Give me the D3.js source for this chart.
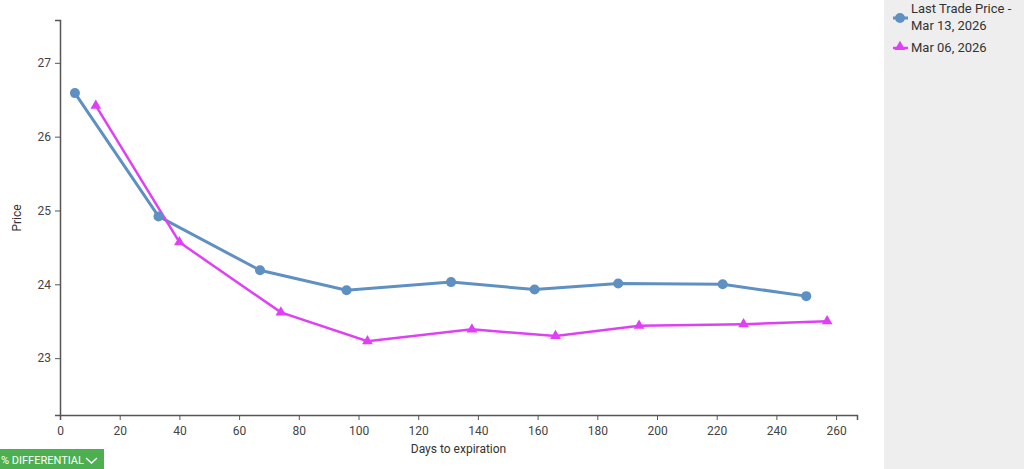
<!DOCTYPE html>
<html>
<head>
<meta charset="utf-8">
<script src="https://cdn.jsdelivr.net/npm/d3@7"></script>
<style>
  body { margin: 0; background: #fff; font-family: Roboto, "Noto Sans", sans-serif; }
  #chart { position: relative; width: 1024px; height: 469px; overflow: hidden; }
</style>
</head>
<body>
<div id="chart"></div>
<script>
// days to expiration for each curve
var lastDays = [5, 33, 67, 96, 131, 159, 187, 222, 250];
var lastPrices = [26.59, 24.92, 24.19, 23.92, 24.03, 23.93, 24.01, 24.00, 23.84];
var prevDays = [12, 40, 74, 103, 138, 166, 194, 229, 257];
var prevPrices = [26.42, 24.57, 23.62, 23.23, 23.39, 23.30, 23.44, 23.46, 23.50];
var xTicks = [0, 20, 40, 60, 80, 100, 120, 140, 160, 180, 200, 220, 240, 260];
var yTicks = [23, 24, 25, 26, 27];
var seriesNames = [["Last Trade Price -", "Mar 13, 2026"], ["Mar 06, 2026"]];

var W = 1024, H = 469;
var margin = {top: 20, left: 60, right: 167, bottom: 54};

var svg = d3.select("#chart").append("svg")
    .attr("width", W)
    .attr("height", H);

// legend panel on the right
svg.append("rect")
    .attr("x", 884).attr("y", 0)
    .attr("width", W - 884).attr("height", H)
    .attr("fill", "#eeeeee");

var x = d3.scaleLinear()
    .domain([0, 267])
    .range([margin.left, W - margin.right]);

var y = d3.scaleLinear()
    .domain([22.23, 27.58])
    .range([H - margin.bottom, margin.top]);

var xAxis = svg.append("g")
    .attr("transform", `translate(0, ${H - margin.bottom})`)
    .call(d3.axisBottom(x).tickValues(xTicks).tickSizeOuter(0).tickSize(5));

var yAxis = svg.append("g")
    .attr("transform", `translate(${margin.left}, 0)`)
    .call(d3.axisLeft(y).tickValues(yTicks).tickFormat(d3.format("d")).tickSizeOuter(0).tickSize(5));

[xAxis, yAxis].forEach(function(g){
    g.select(".domain").attr("stroke", "#555").attr("stroke-width", 1.5);
    g.selectAll(".tick line").attr("stroke", "#555");
    g.selectAll(".tick text")
        .attr("fill", "#444")
        .style("font-family", "Roboto, sans-serif")
        .style("font-size", "12px");
});
xAxis.selectAll(".tick text").attr("dy", "1.0em");
yAxis.selectAll(".tick text").attr("x", -9);

svg.append("text")
    .attr("x", x(133.5)).attr("y", 453)
    .attr("text-anchor", "middle")
    .attr("fill", "#333")
    .style("font-size", "12px")
    .text("Days to expiration");

svg.append("text")
    .attr("transform", "translate(21, 218) rotate(-90)")
    .attr("text-anchor", "middle")
    .attr("fill", "#333")
    .style("font-size", "12px")
    .text("Price");

var line = d3.line()
    .x(d => x(d[0]))
    .y(d => y(d[1]));

var blue = "#5f90c2", pink = "#e040f5";
var lastData = d3.zip(lastDays, lastPrices);
var prevData = d3.zip(prevDays, prevPrices);

svg.append("path")
    .datum(lastData)
    .attr("fill", "none")
    .attr("stroke", blue)
    .attr("stroke-width", 3)
    .attr("d", line);

svg.append("path")
    .datum(prevData)
    .attr("fill", "none")
    .attr("stroke", pink)
    .attr("stroke-width", 2.5)
    .attr("d", line);

svg.selectAll(".last-dot")
    .data(lastData)
    .enter()
    .append("circle")
    .attr("class", "last-dot")
    .attr("cx", d => x(d[0]))
    .attr("cy", d => y(d[1]))
    .attr("r", 5)
    .attr("fill", blue);

var tri = d3.symbol().type(d3.symbolTriangle).size(50);
svg.selectAll(".prev-dot")
    .data(prevData)
    .enter()
    .append("path")
    .attr("class", "prev-dot")
    .attr("transform", d => `translate(${x(d[0])}, ${y(d[1])})`)
    .attr("d", tri)
    .attr("fill", pink);

// legend
var legend = svg.append("g").style("font-size", "13px").attr("fill", "#333");

legend.append("line")
    .attr("x1", 893).attr("x2", 908).attr("y1", 18).attr("y2", 18)
    .attr("stroke", blue).attr("stroke-width", 3);
legend.append("circle")
    .attr("cx", 900).attr("cy", 18).attr("r", 5).attr("fill", blue);
legend.append("text")
    .attr("x", 911).attr("y", 13)
    .text(seriesNames[0][0]);
legend.append("text")
    .attr("x", 911).attr("y", 30)
    .text(seriesNames[0][1]);

legend.append("line")
    .attr("x1", 893).attr("x2", 908).attr("y1", 48).attr("y2", 48)
    .attr("stroke", pink).attr("stroke-width", 2.5);
legend.append("path")
    .attr("transform", "translate(900, 47)")
    .attr("d", tri)
    .attr("fill", pink);
legend.append("text")
    .attr("x", 911).attr("y", 52)
    .text(seriesNames[1][0]);

// dropdown button bottom-left
var btn = svg.append("g");
btn.append("rect")
    .attr("x", 0).attr("y", 449)
    .attr("width", 104).attr("height", 22)
    .attr("fill", "#4caf50");
btn.append("text")
    .attr("x", 1).attr("y", 463.5)
    .attr("fill", "#fff")
    .style("font-size", "11px")
    .text("% DIFFERENTIAL");
btn.append("path")
    .attr("d", "M86,458 L91.5,463 L97,458")
    .attr("fill", "none")
    .attr("stroke", "#fff")
    .attr("stroke-width", 1.3);
</script>
</body>
</html>
